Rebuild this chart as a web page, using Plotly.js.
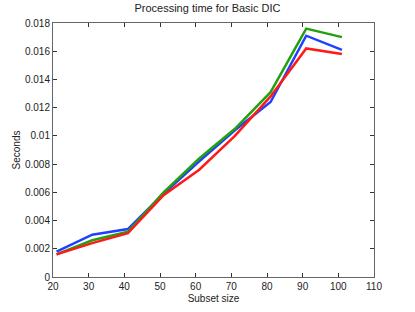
<!DOCTYPE html>
<html>
<head>
<meta charset="utf-8">
<script src="https://cdn.plot.ly/plotly-3.0.1.min.js"></script>
<style>html,body{margin:0;padding:0;background:#fff}#chart{width:415px;height:312px}</style>
</head>
<body>
<div id="chart"></div>
<script>
const subsetSize = [21, 31, 41, 51, 61, 71, 81, 91, 101];
const blueSeries = [0.0018, 0.0030, 0.0034, 0.0059, 0.0082, 0.0104, 0.0124, 0.0171, 0.0161];
const greenSeries = [0.0016, 0.0026, 0.0032, 0.0060, 0.0084, 0.0105, 0.0131, 0.0176, 0.0170];
const redSeries = [0.0016, 0.0024, 0.0031, 0.0058, 0.0076, 0.0100, 0.0128, 0.0162, 0.0158];
const xTicks = [20, 30, 40, 50, 60, 70, 80, 90, 100, 110];
const yTickVals = [0, 0.002, 0.004, 0.006, 0.008, 0.01, 0.012, 0.014, 0.016, 0.018];
const yTickText = ['0', '0.002', '0.004', '0.006', '0.008', '0.01', '0.012', '0.014', '0.016', '0.018'];

const mk = (y, c) => ({x: subsetSize, y: y, mode: 'lines', type: 'scatter',
  line: {color: c, width: 2.5}, hoverinfo: 'skip'});

const data = [mk(blueSeries, '#2040ff'), mk(greenSeries, '#22a010'), mk(redSeries, '#ff1a1a')];
const font = {family: 'Liberation Sans, Arial, sans-serif', size: 10, color: '#222'};
const layout = {
  width: 415, height: 312,
  margin: {l: 53, r: 41, t: 23, b: 35},
  paper_bgcolor: '#fff', plot_bgcolor: '#fff',
  showlegend: false,
  font: font,
  title: {text: 'Processing time for Basic DIC', font: {family: font.family, size: 11, color: '#222'},
    x: 0.5, xanchor: 'center', y: 0.985, yanchor: 'top'},
  xaxis: {range: [20, 110], tickvals: xTicks, ticks: 'inside', ticklen: 4, tickcolor: '#333',
    showline: true, linecolor: '#666', linewidth: 1, mirror: 'ticks', showgrid: false, zeroline: false,
    title: {text: 'Subset size', font: {family: font.family, size: 10, color: '#222'}, standoff: 3},
    tickfont: font},
  yaxis: {range: [0, 0.018], tickvals: yTickVals, ticktext: yTickText, ticks: 'inside', ticklen: 4, tickcolor: '#333',
    showline: true, linecolor: '#666', linewidth: 1, mirror: 'ticks', showgrid: false, zeroline: false,
    title: {text: 'Seconds', font: {family: font.family, size: 10, color: '#222'}, standoff: 2},
    tickfont: font}
};
Plotly.newPlot('chart', data, layout, {staticPlot: true, displayModeBar: false});
</script>
</body>
</html>
